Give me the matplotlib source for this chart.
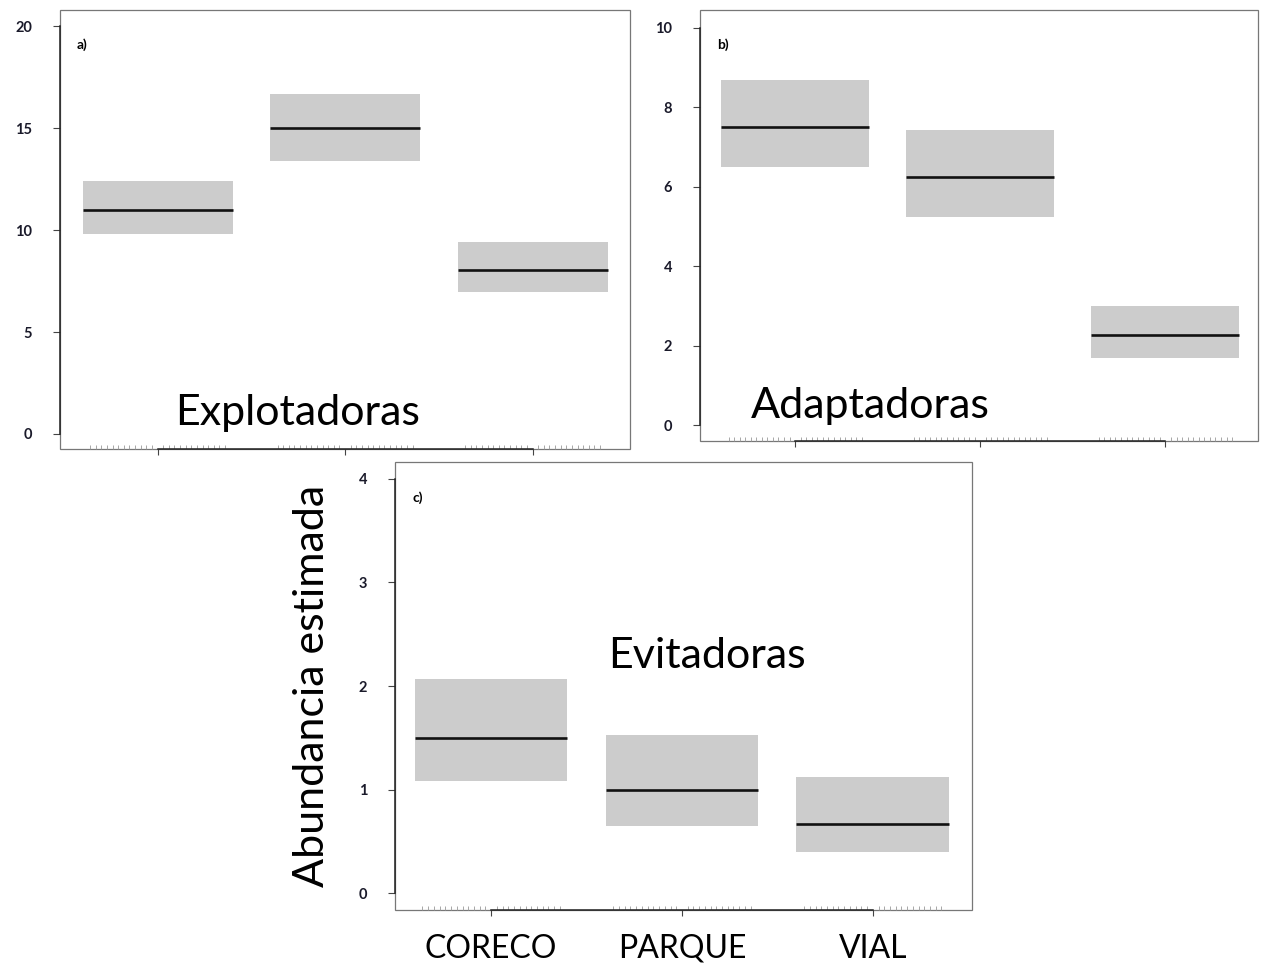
import numpy as np
import matplotlib
matplotlib.use('Agg')
import matplotlib.pyplot as plt
from matplotlib.patches import Rectangle

plt.rcParams['font.family'] = ['Lato', 'DejaVu Sans']

# Estimated abundance (mean with lower/upper interval) per site
sites = ["CORECO", "PARQUE", "VIAL"]

expl_mean = [11.0, 15.0, 8.05]
expl_low = [9.8, 13.4, 6.95]
expl_high = [12.4, 16.7, 9.4]

adap_mean = [7.5, 6.25, 2.28]
adap_low = [6.5, 5.25, 1.7]
adap_high = [8.7, 7.42, 3.0]

evit_mean = [1.5, 1.0, 0.67]
evit_low = [1.08, 0.65, 0.40]
evit_high = [2.07, 1.53, 1.12]

W, H = 1264, 966
fig = plt.figure(figsize=(W / 100, H / 100), dpi=100)


def px_axes(x0, y0, x1, y1):
    return fig.add_axes([x0 / W, 1 - y1 / H, (x1 - x0) / W, (y1 - y0) / H])


def draw_panel(ax, mean, low, high, yticks, ylim, xlim, tag, name, name_xy, show_names):
    x = np.arange(1, len(sites) + 1)
    width = 0.8
    for xi, m, lo, hi in zip(x, mean, low, high):
        ax.add_patch(Rectangle((xi - width / 2, lo), width, hi - lo,
                               facecolor='#cccccc', edgecolor='none', zorder=1))
        ax.plot([xi - width / 2, xi + width / 2], [m, m], color='#111111', lw=1.9,
                solid_capstyle='butt', zorder=2)
    ax.set_xlim(*xlim)
    ax.set_ylim(*ylim)

    # R-like axes: axis lines only between first and last tick, thin box around
    for s in ['top', 'right']:
        ax.spines[s].set_visible(False)
    ax.spines['left'].set_bounds(yticks[0], yticks[-1])
    ax.spines['bottom'].set_bounds(x[0], x[-1])
    for s in ['left', 'bottom']:
        ax.spines[s].set_color('#222222')
        ax.spines[s].set_linewidth(1.1)
    ax.add_patch(Rectangle((0, 0), 1, 1, transform=ax.transAxes, fill=False,
                           edgecolor='#777777', lw=0.9, zorder=0, clip_on=False))

    ax.set_yticks(yticks)
    ax.set_yticklabels([str(v) for v in yticks])
    ax.tick_params(axis='y', direction='out', length=5, width=0.8, color='#444444',
                   pad=15, labelsize=10.5, labelcolor='#1a1a2a')
    for lab in ax.get_yticklabels():
        lab.set_fontweight('bold')
    ax.set_xticks(x)
    if show_names:
        ax.set_xticklabels(sites)
        ax.tick_params(axis='x', direction='out', length=4, width=0.8, color='#444444',
                       pad=13, labelsize=23, labelcolor='#000000')
    else:
        ax.set_xticklabels([])
        ax.tick_params(axis='x', direction='out', length=4, width=0.8, color='#444444')

    # rug-like minor ticks along the bottom
    minor = np.concatenate([xi + np.arange(-0.36, 0.37, 0.03) for xi in x])
    ax.set_xticks(minor, minor=True)
    ax.tick_params(axis='x', which='minor', direction='in', length=3, width=0.6,
                   color='#999999')

    ax.text(0.03, 0.92, tag, transform=ax.transAxes, fontsize=10, color='#000000',
            ha='left', va='center', fontweight='bold')
    ax.text(name_xy[0], name_xy[1], name, transform=ax.transAxes, fontsize=31,
            color='#000000', ha='center', va='baseline')


ax_a = px_axes(60, 10, 630, 449)
draw_panel(ax_a, expl_mean, expl_low, expl_high, [0, 5, 10, 15, 20], (-0.74, 20.8),
           (0.48, 3.52), 'a)', 'Explotadoras', (0.416, 0.055), False)

ax_b = px_axes(700, 10, 1258, 441)
draw_panel(ax_b, adap_mean, adap_low, adap_high, [0, 2, 4, 6, 8, 10], (-0.4, 10.45),
           (0.486, 3.5), 'b)', 'Adaptadoras', (0.305, 0.053), False)

ax_c = px_axes(395, 462, 972, 910)
draw_panel(ax_c, evit_mean, evit_low, evit_high, [0, 1, 2, 3, 4], (-0.16, 4.16),
           (0.496, 3.52), 'c)', 'Evitadoras', (0.54, 0.54), True)
ax_c.set_ylabel('Abundancia estimada', fontsize=31, color='#000000', labelpad=20)

fig.savefig('out.png', dpi=100)
